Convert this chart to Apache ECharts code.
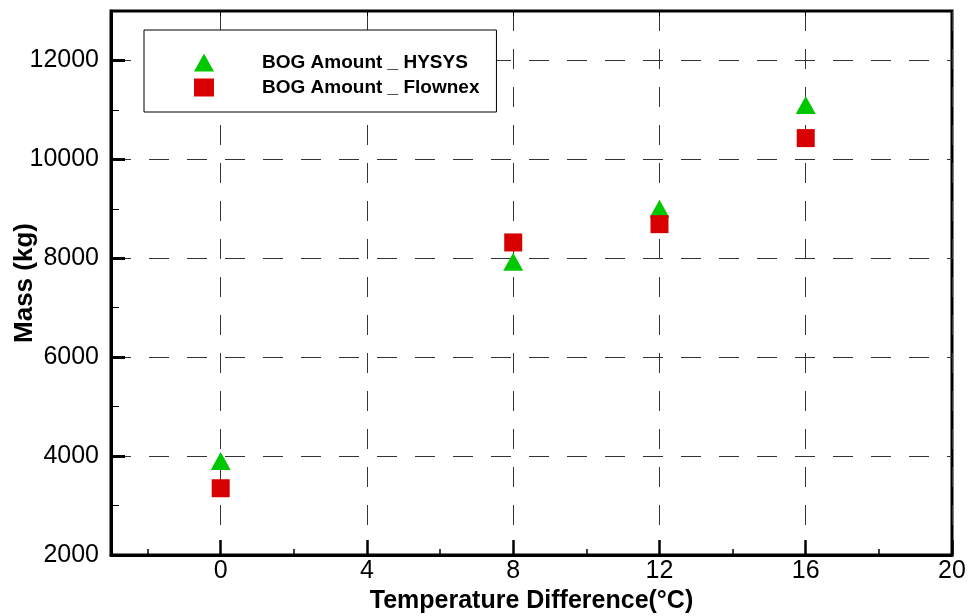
<!DOCTYPE html>
<html>
<head>
<meta charset="utf-8">
<script src="https://cdn.jsdelivr.net/npm/echarts@6/dist/echarts.min.js"></script>
<style>
  html, body { margin: 0; padding: 0; background: #fff; }
  #chart { width: 971px; height: 616px; }
</style>
</head>
<body>
<div id="chart"></div>
<script>
// ---- data ----
const tempDiff = [0, 8, 12, 16];
const hysys = [3900, 7930, 9000, 11100];
const flownex = [3350, 8320, 8690, 10430];
const xMajorTicks = [0, 4, 8, 12, 16, 20];
const xMinorTicks = [-2, 2, 6, 10, 14, 18];
const xTopTicks = [0, 4, 8, 12, 16];
const yMajorTicks = [2000, 4000, 6000, 8000, 10000, 12000];
const yMinorTicks = [3000, 5000, 7000, 9000, 11000];
const seriesNames = ['BOG Amount _ HYSYS', 'BOG Amount _ Flownex'];

const FONT = "'Liberation Sans', Arial, Helvetica, sans-serif";
const chart = echarts.init(document.getElementById('chart'), null, { renderer: 'canvas' });

const dashStyle = { color: '#333', width: 1, type: [20, 18] };
const plain = v => String(v);

const option = {
  backgroundColor: '#fff',
  animation: false,
  textStyle: { fontFamily: FONT },
  grid: {
    left: 111, right: 19, top: 11, bottom: 61,
    containLabel: false, outerBoundsMode: 'none',
    show: true, borderColor: '#000', borderWidth: 3, backgroundColor: 'transparent'
  },
  legend: {
    orient: 'vertical',
    left: 144, top: 30,
    padding: [23, 17, 15, 50],
    itemGap: 6,
    itemWidth: 20, itemHeight: 18,
    backgroundColor: '#fff',
    borderColor: '#000', borderWidth: 1, borderRadius: 0,
    textStyle: { fontFamily: FONT, fontSize: 19, fontWeight: 'bold', color: '#000', padding: [0, 0, 0, 43], lineHeight: 18 },
    data: [
      { name: seriesNames[0], icon: 'triangle' },
      { name: seriesNames[1], icon: 'rect' }
    ]
  },
  xAxis: [
    {
      type: 'value', position: 'bottom', min: -3, max: 20,
      name: 'Temperature Difference(\u00B0C)', nameLocation: 'middle', nameGap: 31,
      nameTextStyle: { fontFamily: FONT, fontSize: 25, fontWeight: 'bold', color: '#000' },
      axisLine: { show: true, onZero: false, lineStyle: { color: '#000', width: 3 } },
      axisTick: { show: true, inside: true, length: 15, lineStyle: { color: '#000', width: 2.5 }, customValues: xMajorTicks },
      axisLabel: { show: true, fontFamily: FONT, fontSize: 25, color: '#000', margin: 4, customValues: xMajorTicks, formatter: plain },
      splitLine: { show: true, lineStyle: dashStyle }
    },
    {
      type: 'value', position: 'bottom', min: -3, max: 20,
      axisLine: { show: false, onZero: false },
      axisTick: { show: true, inside: true, length: 6, lineStyle: { color: '#000', width: 1.5 }, customValues: xMinorTicks },
      axisLabel: { show: false },
      splitLine: { show: false }
    },
    {
      type: 'value', position: 'top', min: -3, max: 20,
      axisLine: { show: false, onZero: false },
      axisTick: { show: true, inside: true, length: 5, lineStyle: { color: '#000', width: 1 }, customValues: xTopTicks },
      axisLabel: { show: false },
      splitLine: { show: false }
    }
  ],
  yAxis: [
    {
      type: 'value', position: 'left', min: 2000, max: 13000,
      name: 'Mass (kg)', nameLocation: 'middle', nameGap: 73, nameRotate: 90, nameMoveOverlap: false,
      nameTextStyle: { fontFamily: FONT, fontSize: 26, fontWeight: 'bold', color: '#000' },
      axisLine: { show: true, onZero: false, lineStyle: { color: '#000', width: 3 } },
      axisTick: { show: true, inside: true, length: 14, lineStyle: { color: '#000', width: 3 }, customValues: yMajorTicks },
      axisLabel: { show: true, fontFamily: FONT, fontSize: 25, color: '#000', margin: 12, customValues: yMajorTicks, formatter: plain },
      splitLine: { show: true, lineStyle: dashStyle }
    },
    {
      type: 'value', position: 'left', min: 2000, max: 13000,
      axisLine: { show: false, onZero: false },
      axisTick: { show: true, inside: true, length: 8, lineStyle: { color: '#000', width: 1 }, customValues: yMinorTicks },
      axisLabel: { show: false },
      splitLine: { show: false }
    }
  ],
  series: [
    {
      name: seriesNames[0], type: 'scatter', xAxisIndex: 0, yAxisIndex: 0,
      symbol: 'triangle', symbolSize: [20, 18],
      itemStyle: { color: '#00c800', opacity: 1 },
      data: tempDiff.map((x, i) => [x, hysys[i]]),
      z: 3
    },
    {
      name: seriesNames[1], type: 'scatter', xAxisIndex: 0, yAxisIndex: 0,
      symbol: 'rect', symbolSize: 18,
      itemStyle: { color: '#d80000', opacity: 1 },
      data: tempDiff.map((x, i) => [x, flownex[i]]),
      z: 4
    }
  ]
};
chart.setOption(option);
</script>
</body>
</html>
